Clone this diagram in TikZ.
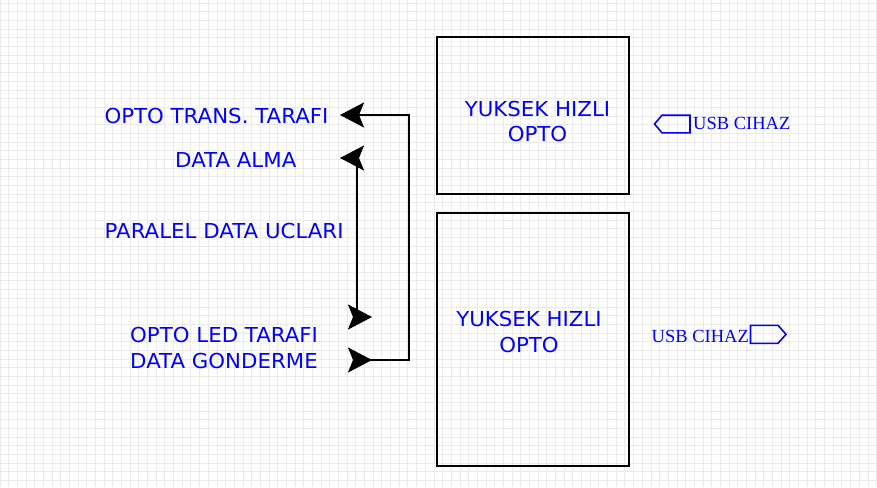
\documentclass[tikz,border=0pt]{standalone}
\usepackage{fontspec}
\setmainfont[FakeStretch=1.035]{DejaVu Sans}
\newfontfamily\serifusb{Liberation Serif}
\usetikzlibrary{arrows.meta}
\definecolor{lblue}{RGB}{0,0,255}
\definecolor{gridgray}{RGB}{234,234,234}
\tikzset{
  tipst/.tip={Stealth[length=24pt, width=25pt, inset=5pt]},
  tipr/.tip={Stealth[length=24pt, width=25pt, inset=5pt, reversed]}
}
\begin{document}
\begin{tikzpicture}[x=1pt,y=-1pt,
  gridline/.style={gridgray, line width=1pt},
  boxst/.style={draw=black, line width=2pt, inner sep=0, anchor=north west},
  lbl/.style={text=lblue, inner sep=0, font=\fontsize{20.6}{25.5}\selectfont},
  usbtext/.style={text=lblue, inner sep=0, font=\serifusb\fontsize{18.5}{22}\selectfont, anchor=base west},
  usbshape/.style={draw=lblue, line width=1.6pt, line join=miter},
  conn/.style={draw=black, line width=2pt}
]
\useasboundingbox (0,0) rectangle (877,487);
\fill[white] (0,0) rectangle (877,487);
\foreach \i in {0,...,101} \draw[gridline] (\i*8.68,0) -- (\i*8.68,487);
\foreach \j in {0,...,56} \draw[gridline] (0,3.2+\j*8.68) -- (877,3.2+\j*8.68);

% boxes
\node[boxst, minimum width=192pt, minimum height=157pt] (topbox) at (435.7,36.3) {};
\node[boxst, minimum width=192pt, minimum height=253.5pt] (botbox) at (435.7,211.7) {};

% box texts
\node[lbl, align=center, anchor=north] (toptext) at (537.5,101) {YUKSEK HIZLI\\OPTO};
\node[lbl, align=center, anchor=north] (bottext) at (529,311.5) {YUKSEK HIZLI\\OPTO};

% left labels
\node[lbl, anchor=base west] (trans) at (104.3,123.3) {OPTO TRANS. TARAFI};
\node[lbl, anchor=base west] (alma) at (175,167.7) {DATA ALMA};
\node[lbl, anchor=base west] (paralel) at (104.5,238.3) {PARALEL DATA UCLARI};
\node[lbl, anchor=north west, align=left] (led) at (130,327.5) {OPTO LED TARAFI\\DATA GONDERME};

% connector coordinates
\coordinate (a1s) at (348,360);
\coordinate (a1c1) at (409,360);
\coordinate (a1c2) at (409,115);
\coordinate (a1e) at (340,115);
\coordinate (a2s) at (348,317);
\coordinate (a2c1) at (357,317);
\coordinate (a2c2) at (357,158);
\coordinate (a2e) at (340,158);

\draw[conn, {tipr}-{tipst}] (a1s) -- (a1c1) -- (a1c2) -- (a1e);
\draw[conn, {tipr}-{tipst}] (a2s) -- (a2c1) -- (a2c2) -- (a2e);

% USB devices
\draw[usbshape] (654.5,124) -- (662,115.2) -- (690,115.2) -- (690,132.8) -- (662,132.8) -- cycle;
\node[usbtext] (usb1) at (693,129.3) {USB CIHAZ};
\draw[usbshape] (750.5,325.3) -- (778,325.3) -- (786,334.3) -- (778,343.3) -- (750.5,343.3) -- cycle;
\node[usbtext] (usb2) at (651.5,342.3) {USB CIHAZ};
\end{tikzpicture}
\end{document}
